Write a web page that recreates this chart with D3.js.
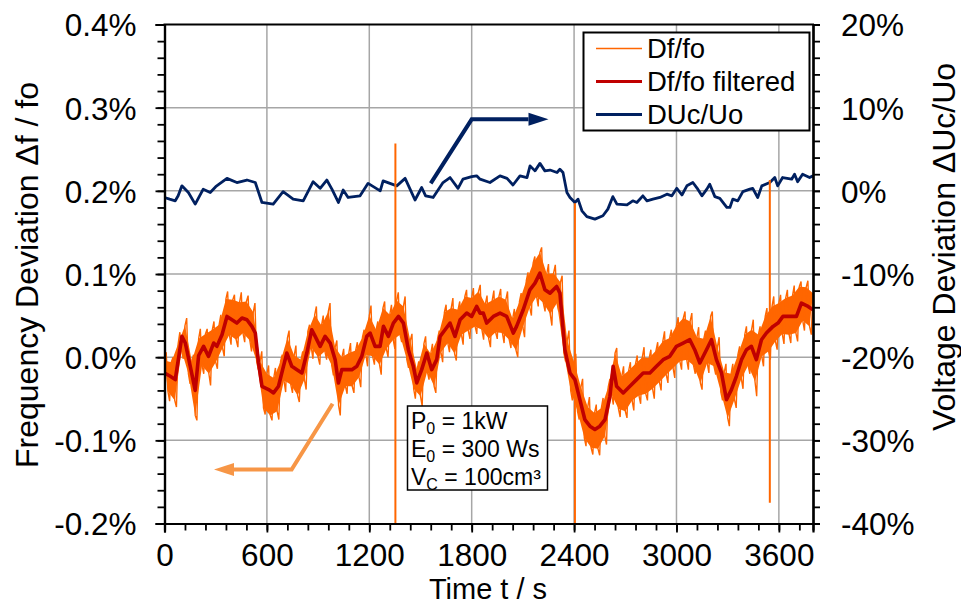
<!DOCTYPE html>
<html><head><meta charset="utf-8">
<script src="https://cdn.jsdelivr.net/npm/d3@7"></script>
<style>
html,body{margin:0;padding:0;background:#fff;}
svg{display:block;font-family:"Liberation Sans",Arial,sans-serif;}
</style></head>
<body><svg id="c" width="961" height="604"></svg>
<script>
// ---------- data ----------
const xTicks = [0, 600, 1200, 1800, 2400, 3000, 3600];
const yLeftTicks = [-0.2, -0.1, 0.0, 0.1, 0.2, 0.3, 0.4];
const yRightTicks = [-40, -30, -20, -10, 0, 10, 20];
const legendLabels = ["Df/fo", "Df/fo filtered", "DUc/Uo"];
const infoLines = [["P", "0", " = 1kW"], ["E", "0", " = 300 Ws"], ["V", "C", " = 100cm³"]];

// raw Df/fo (%), one value every 20 s from 0 to 3800 s (alternating band top / band bottom)
const rawStep = 20;
const dfRaw = [
-0.004,-0.041,-0.006,-0.052,0.016,0.008,0.038,-0.020,-0.005,-0.070,
0.022,-0.010,0.028,-0.020,0.033,-0.006,0.039,0.011,0.070,0.027,
0.069,0.021,0.066,0.029,0.067,0.020,0.054,-0.005,-0.005,-0.061,
-0.020,-0.070,-0.025,-0.065,-0.005,-0.028,0.023,-0.033,0.002,-0.046,
-0.003,-0.027,0.031,0.012,0.051,0.000,0.038,0.007,0.055,-0.010,
0.012,-0.058,0.000,-0.035,0.005,-0.035,0.008,-0.024,0.024,0.003,
0.050,0.001,0.033,-0.009,0.059,0.010,0.051,0.021,0.068,0.027,
0.061,-0.003,0.020,-0.038,-0.015,-0.047,0.016,-0.017,0.004,-0.035,
0.022,0.006,0.054,0.017,0.059,0.004,0.057,0.027,0.073,0.032,
0.071,0.037,0.079,0.033,0.064,0.022,0.068,0.030,0.073,0.029,
0.069,0.021,0.046,0.008,0.067,0.036,0.092,0.060,0.113,0.073,
0.126,0.065,0.100,0.052,0.101,0.065,0.090,0.005,0.020,-0.040,
-0.006,-0.065,-0.036,-0.097,-0.060,-0.109,-0.067,-0.110,-0.061,-0.095,
-0.036,-0.045,0.005,-0.062,-0.023,-0.065,-0.016,-0.052,-0.008,-0.046,
0.000,-0.044,-0.001,-0.038,0.008,-0.030,0.019,-0.021,0.023,-0.013,
0.038,-0.005,0.047,-0.003,0.043,-0.010,0.024,-0.031,0.022,-0.007,
0.049,-0.011,0.012,-0.042,-0.018,-0.073,-0.020,-0.051,0.003,-0.026,
0.027,-0.010,0.033,-0.029,0.027,0.001,0.049,0.007,0.061,0.019,
0.065,0.028,0.071,0.027,0.074,0.029,0.085,0.044,0.084,0.037,
0.077];
// raw Df/fo noise peaks (%), at 10 s, 30 s, 50 s ... 3790 s (alternately upward / downward)
const dfPeak = [
0.006,-0.053,0.000,-0.060,0.030,-0.002,0.047,-0.032,0.003,-0.076,
0.034,-0.020,0.034,-0.034,0.043,-0.014,0.051,0.001,0.079,0.015,
0.075,0.012,0.078,0.018,0.074,0.007,0.065,-0.015,0.007,-0.069,
-0.010,-0.076,-0.013,-0.075,0.003,-0.042,0.032,-0.043,0.014,-0.054,
0.007,-0.039,0.039,-0.002,0.061,-0.009,0.050,-0.003,0.065,-0.022,
0.020,-0.070,0.010,-0.044,0.017,-0.043,0.018,-0.036,0.033,-0.011,
0.062,-0.009,0.043,-0.021,0.067,0.000,0.063,0.010,0.078,0.018,
0.073,-0.013,0.028,-0.050,-0.005,-0.059,0.025,-0.027,0.016,-0.043,
0.032,-0.006,0.063,0.006,0.071,-0.004,0.067,0.015,0.081,0.022,
0.083,0.028,0.087,0.021,0.074,0.012,0.080,0.022,0.082,0.017,
0.079,0.011,0.058,0.000,0.077,0.024,0.102,0.050,0.121,0.061,
0.132,0.055,0.112,0.038,0.111,0.055,0.098,-0.005,0.032,-0.052,
0.004,-0.075,-0.026,-0.107,-0.048,-0.117,-0.057,-0.118,-0.049,-0.105,
-0.026,-0.057,0.011,-0.072,-0.011,-0.073,-0.006,-0.064,0.002,-0.056,
0.012,-0.052,0.009,-0.050,0.018,-0.040,0.031,-0.031,0.033,-0.025,
0.048,-0.015,0.055,-0.015,0.053,-0.020,0.036,-0.039,0.032,-0.019,
0.055,-0.021,0.024,-0.052,-0.008,-0.083,-0.008,-0.061,0.013,-0.038,
0.037,-0.020,0.045,-0.047,0.037,-0.011,0.059,-0.003,0.073,0.009,
0.075,0.016,0.081,0.017,0.086,0.019,0.091,0.032,0.092,0.027];

// single-sample spikes in the raw signal
const spikeTimes = [1353, 2405, 3547];
const spikeHigh = [0.257, 0.185, 0.213];
const spikeLow = [-0.2, -0.2, -0.175];

// filtered Df/fo (%)
const dfFiltT = [0,34,63,102,122,151,180,200,229,258,
288,307,337,366,395,424,454,483,512,532,
551,571,610,639,668,697,717,746,776,805,
834,863,883,912,941,971,1000,1019,1039,1068,
1098,1127,1156,1185,1205,1234,1263,1283,1312,1341,
1371,1400,1429,1458,1478,1507,1537,1566,1595,1615,
1644,1673,1702,1732,1771,1800,1829,1849,1868,1888,
1927,1966,2005,2044,2063,2102,2141,2171,2200,2229,
2259,2298,2317,2346,2376,2405,2434,2463,2493,2522,
2551,2581,2610,2629,2649,2688,2727,2766,2805,2844,
2883,2922,2961,3000,3039,3078,3107,3137,3176,3205,
3234,3264,3293,3322,3351,3381,3410,3439,3468,3498,
3527,3566,3595,3624,3663,3703,3732,3771,3800];
const dfFiltV = [-0.019,-0.023,-0.027,0.025,0.017,-0.011,-0.040,0.002,0.013,0.001,
0.017,0.013,0.027,0.049,0.045,0.041,0.047,0.045,0.037,0.029,
-0.007,-0.035,-0.039,-0.043,-0.035,-0.011,0.005,-0.011,-0.015,-0.019,
0.005,0.033,0.025,0.013,0.025,0.017,-0.003,-0.031,-0.015,-0.015,
-0.015,-0.011,0.001,0.025,0.029,0.013,0.013,0.037,0.025,0.041,
0.049,0.041,0.009,-0.011,-0.031,-0.015,0.005,-0.015,-0.003,0.025,
0.033,0.041,0.025,0.045,0.053,0.049,0.061,0.053,0.053,0.041,
0.049,0.053,0.049,0.029,0.037,0.057,0.081,0.089,0.101,0.081,
0.077,0.085,0.077,0.009,-0.019,-0.027,-0.051,-0.075,-0.083,-0.087,
-0.083,-0.075,-0.047,-0.011,-0.035,-0.043,-0.035,-0.027,-0.019,-0.019,
-0.011,-0.003,0.001,0.013,0.017,0.021,0.009,-0.007,0.009,0.021,
-0.003,-0.019,-0.051,-0.039,-0.023,-0.003,0.009,0.013,-0.003,0.021,
0.029,0.037,0.041,0.049,0.049,0.049,0.065,0.061,0.057];

// DUc/Uo (%), right axis
const duT = [0,30,63,80,102,140,180,227,268,300,
366,424,483,532,571,637,695,754,813,871,
912,951,981,1019,1047,1076,1146,1193,1264,1281,
1361,1410,1439,1468,1507,1530,1574,1632,1673,1720,
1749,1800,1829,1849,1907,1966,2007,2042,2083,2124,
2142,2171,2200,2229,2259,2300,2317,2335,2358,2376,
2405,2423,2446,2475,2522,2569,2598,2627,2651,2710,
2744,2768,2803,2827,2862,2903,2944,2973,3002,3032,
3061,3096,3125,3149,3178,3195,3225,3254,3295,3313,
3330,3359,3389,3430,3447,3476,3500,3547,3576,3593,
3622,3675,3692,3710,3739,3780,3800];
const duV = [-0.8,-1.0,-1.2,-0.6,0.6,-0.2,-1.6,0.2,-0.2,0.5,
1.5,1.0,1.3,1.0,-1.4,-1.6,-0.1,-1.0,-1.2,1.1,
0.3,1.3,0.2,-1.4,0.1,-0.8,-0.6,0.9,0.0,1.2,
0.6,1.5,0.2,-1.1,0.4,-0.6,-0.8,1.0,1.6,0.3,
1.4,1.7,1.8,1.4,1.0,1.8,1.5,0.7,1.8,1.6,
3.0,2.4,3.3,2.4,2.5,2.2,2.6,2.2,-0.2,-0.8,
-1.4,-1.0,-2.4,-3.1,-3.4,-3.0,-2.2,-0.7,-1.6,-1.7,
-1.2,-1.4,-0.6,-1.2,-1.0,-0.8,-0.4,-0.6,0.3,-0.5,
0.6,1.0,0.2,-0.6,0.2,0.8,-0.7,-0.9,-2.0,-2.0,
-1.0,-1.2,-0.1,0.2,0.3,-0.8,0.6,1.0,1.6,0.6,
1.6,1.4,2.0,1.1,2.0,1.6,1.8];

// annotation arrows (data coordinates)
const blueArrow = [[1560, 0.9], [1800, 8.6], [2250, 8.6]];          // right axis
const orangeArrow = [[985, -0.056], [745, -0.135], [290, -0.135]];  // left axis

// ---------- layout ----------
const svg = d3.select("#c");
const L = 164.5, R = 813, T = 24.5, B = 523.5;
const x = d3.scaleLinear().domain([0, 3800]).range([L, R]);
const yL = d3.scaleLinear().domain([-0.2, 0.4]).range([B, T]);
const yR = d3.scaleLinear().domain([-40, 20]).range([B, T]);

const C_RAW = "#FF6600", C_FILT = "#C00000", C_DU = "#002060", C_ARR = "#F79646";
const GRID = "#A6A6A6";
const FONT = '"Liberation Sans",Arial,sans-serif';

svg.append("rect").attr("width", 961).attr("height", 604).attr("fill", "#fff");

// grid
const g = svg.append("g");
g.selectAll(".vg").data(xTicks.filter(d => d > 0)).join("line")
  .attr("x1", d => x(d)).attr("x2", d => x(d)).attr("y1", T).attr("y2", B)
  .attr("stroke", GRID).attr("stroke-width", 1.5);
g.selectAll(".hg").data(yLeftTicks.filter(d => d > -0.2 && d < 0.4)).join("line")
  .attr("x1", L).attr("x2", R).attr("y1", d => yL(d)).attr("y2", d => yL(d))
  .attr("stroke", GRID).attr("stroke-width", 1.5);

// clip
svg.append("clipPath").attr("id", "clip").append("rect")
  .attr("x", L).attr("y", T).attr("width", R - L).attr("height", B - T);
const plot = svg.append("g").attr("clip-path", "url(#clip)");

// DUc/Uo
const duData = duT.map((t, i) => [t, duV[i]]);
plot.append("path").datum(duData)
  .attr("d", d3.line().x(d => x(d[0])).y(d => yR(d[1])))
  .attr("fill", "none").attr("stroke", C_DU).attr("stroke-width", 2.8)
  .attr("stroke-linejoin", "round");

// raw Df/fo: band polygon (tops forward, bottoms back) + the full noisy trace
const rawData = dfRaw.map((v, i) => [i * rawStep, v]);
const tops = rawData.filter((d, i) => i % 2 === 0);
const bottoms = rawData.filter((d, i) => i % 2 === 1).reverse();
const bandLine = d3.line().x(d => x(d[0])).y(d => yL(d[1]));
plot.append("path").attr("d", bandLine(tops.concat(bottoms)) + "Z")
  .attr("fill", C_RAW).attr("stroke", "none");
const traceData = [];
rawData.forEach((d, i) => {
  traceData.push(d);
  if (i < dfPeak.length) traceData.push([d[0] + rawStep / 2, dfPeak[i]]);
});
plot.append("path").datum(traceData)
  .attr("d", bandLine)
  .attr("fill", "none").attr("stroke", C_RAW).attr("stroke-width", 1.4)
  .attr("stroke-linejoin", "miter").attr("stroke-miterlimit", 2);
plot.selectAll(".spike").data(spikeTimes).join("line")
  .attr("x1", d => x(d)).attr("x2", d => x(d))
  .attr("y1", (d, i) => yL(spikeHigh[i])).attr("y2", (d, i) => yL(spikeLow[i]))
  .attr("stroke", C_RAW).attr("stroke-width", 2);

// filtered
const filtData = dfFiltT.map((t, i) => [t, dfFiltV[i]]);
plot.append("path").datum(filtData)
  .attr("d", d3.line().x(d => x(d[0])).y(d => yL(d[1])))
  .attr("fill", "none").attr("stroke", C_FILT).attr("stroke-width", 3.6)
  .attr("stroke-linejoin", "round");

// axes
const FS = 31.5;
const axL = svg.append("g").attr("transform", `translate(${L},0)`);
axL.call(d3.axisLeft(yL).tickValues(d3.range(-0.2, 0.4001, 0.02)).tickSize(7).tickFormat(""));
axL.call(g2 => g2.append("g").call(d3.axisLeft(yL).tickValues(yLeftTicks).tickSize(9).tickPadding(19)
  .tickFormat(d => d.toFixed(1) + "%")));
const axR = svg.append("g").attr("transform", `translate(${R},0)`);
axR.call(d3.axisRight(yR).tickValues(d3.range(-40, 20.01, 2)).tickSize(7).tickFormat(""));
axR.call(g2 => g2.append("g").call(d3.axisRight(yR).tickValues(yRightTicks).tickSize(7).tickPadding(21)
  .tickFormat(d => d + "%")));
const axB = svg.append("g").attr("transform", `translate(0,${B})`);
axB.call(d3.axisBottom(x).tickValues(d3.range(0, 3800.1, 120)).tickSize(7).tickFormat(""));
axB.call(g2 => g2.append("g").call(d3.axisBottom(x).tickValues(xTicks).tickSize(9).tickFormat(d => d)));

svg.selectAll(".domain").attr("stroke", "#000").attr("stroke-width", 2.2);
svg.selectAll(".tick line").attr("stroke", "#000").attr("stroke-width", 1.8);
svg.selectAll(".tick text").attr("font-size", FS).attr("fill", "#000").attr("font-family", FONT);
axL.selectAll(".tick text").attr("dy", "0.36em");
axR.selectAll(".tick text").attr("dy", "0.36em");
axB.selectAll(".tick text").attr("y", 42.5).attr("dy", 0);
// top border
svg.append("line").attr("x1", L - 1).attr("x2", R + 1).attr("y1", T).attr("y2", T)
  .attr("stroke", "#000").attr("stroke-width", 2.2);

// titles
const TS = 32;
svg.append("text").attr("transform", "translate(38,275) rotate(-90)")
  .attr("text-anchor", "middle").attr("font-size", TS).text("Frequency Deviation Δf / fo");
svg.append("text").attr("transform", "translate(955,247) rotate(-90)")
  .attr("text-anchor", "middle").attr("font-size", TS).text("Voltage Deviation ΔUc/Uo");
svg.append("text").attr("x", 488).attr("y", 599)
  .attr("text-anchor", "middle").attr("font-size", 29).text("Time t / s");

// arrows
function arrow(pts, xs, ys, color) {
  const p = pts.map(d => [xs(d[0]), ys(d[1])]);
  const n = p.length, tip = p[n - 1], prev = p[n - 2];
  const ang = Math.atan2(tip[1] - prev[1], tip[0] - prev[0]);
  const len = 20, hw = 6.5;
  const base = [tip[0] - len * Math.cos(ang), tip[1] - len * Math.sin(ang)];
  const line = p.slice(0, n - 1).concat([base]);
  svg.append("path").attr("d", d3.line()(line)).attr("fill", "none")
    .attr("stroke", color).attr("stroke-width", 4).attr("stroke-linejoin", "miter");
  const px = -Math.sin(ang), py = Math.cos(ang);
  svg.append("path").attr("d", d3.line()([tip, [base[0] + px * hw, base[1] + py * hw], [base[0] - px * hw, base[1] - py * hw]]) + "Z")
    .attr("fill", color);
}
arrow(blueArrow, x, yR, C_DU);
arrow(orangeArrow, x, yL, C_ARR);

// info box
const ib = svg.append("g");
ib.append("rect").attr("x", 407.5).attr("y", 406).attr("width", 140).attr("height", 84)
  .attr("fill", "#fff").attr("stroke", "#000").attr("stroke-width", 1.5);
infoLines.forEach((l, i) => {
  const t = ib.append("text").attr("x", 411).attr("y", 428.5 + i * 28).attr("font-size", 23);
  t.append("tspan").text(l[0]);
  t.append("tspan").attr("font-size", 16).attr("dy", 5).text(l[1]);
  t.append("tspan").attr("dy", -5).text(l[2]);
});

// legend
const lg = svg.append("g");
lg.append("rect").attr("x", 583.5).attr("y", 32.5).attr("width", 226).attr("height", 98)
  .attr("fill", "#fff").attr("stroke", "#000").attr("stroke-width", 2);
const lc = [C_RAW, C_FILT, C_DU], lw = [1.5, 3, 3];
legendLabels.forEach((s, i) => {
  const yy = 48.5 + i * 33;
  lg.append("line").attr("x1", 596).attr("x2", 642).attr("y1", yy).attr("y2", yy)
    .attr("stroke", lc[i]).attr("stroke-width", lw[i]);
  lg.append("text").attr("x", 647).attr("y", yy + 9).attr("font-size", 27.5).text(s);
});
</script></body></html>
